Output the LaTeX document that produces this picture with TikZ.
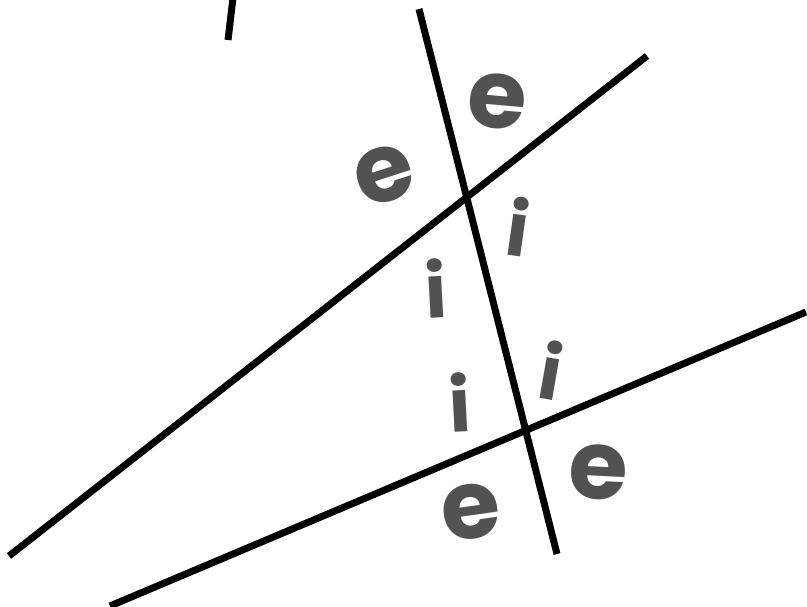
\documentclass[tikz,border=0pt]{standalone}
\usepackage{fontspec}
\setmainfont{Poppins}
\begin{document}
\begin{tikzpicture}[x=1pt,y=-1pt,
  ln/.style={line width=7pt,black},
  lt/.style={text=black!68,font=\fontsize{96}{96}\selectfont\bfseries,inner sep=0pt,anchor=center},
  li/.style={text=black!68,font=\fontsize{74}{74}\selectfont\bfseries,inner sep=0pt,anchor=center}]
\useasboundingbox (0,0) rectangle (807,607);
% lines
\coordinate (t1) at (419,9);
\coordinate (t2) at (557,554);
\coordinate (u1) at (9,556);
\coordinate (u2) at (647,56);
\coordinate (l1) at (110,606);
\coordinate (l2) at (806,312);
\coordinate (s1) at (233,-2);
\coordinate (s2) at (228,40);
\draw[ln] (t1) -- (t2);
\draw[ln] (u1) -- (u2);
\draw[ln] (l1) -- (l2);
\draw[line width=7pt] (s1) -- (s2);
% letters
\node[lt,rotate=-5] (e1) at (497,101) {e};
\node[lt,rotate=18] (e2) at (384,175) {e};
\node[li,rotate=3] (i1) at (436,288) {i};
\node[li,rotate=3] (i2) at (460,402) {i};
\node[li,rotate=-8] (i3) at (518,227) {i};
\node[li,rotate=-10] (i4) at (551,370) {i};
\node[lt,rotate=8] (e3) at (471,512) {e};
\node[lt,rotate=-3] (e4) at (598,472) {e};
\end{tikzpicture}
\end{document}
